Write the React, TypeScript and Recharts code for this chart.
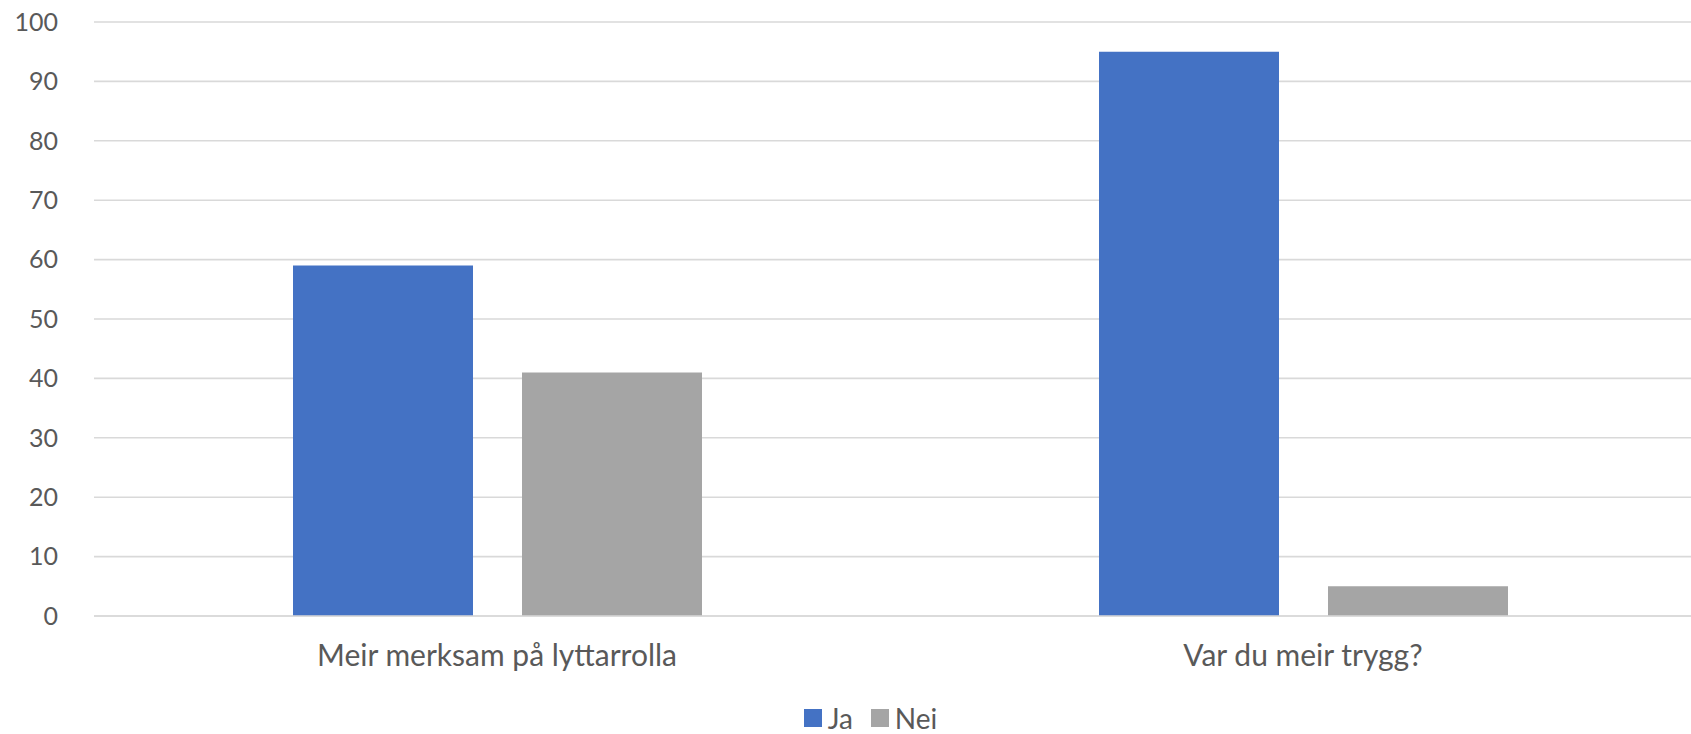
import React from "react";
import {
  BarChart,
  Bar,
  XAxis,
  YAxis,
  CartesianGrid,
  Legend,
} from "recharts";

const categories = ["Meir merksam på lyttarrolla", "Var du meir trygg?"];
const jaValues = [59, 95];
const neiValues = [41, 5];
const yTicks = [0, 10, 20, 30, 40, 50, 60, 70, 80, 90, 100];
const seriesNames = ["Ja", "Nei"];
const seriesColors = ["#4472C4", "#A5A5A5"];

const data = categories.map((name, i) => ({
  name,
  Ja: jaValues[i],
  Nei: neiValues[i],
}));

const FONT = "Lato, 'Noto Sans', sans-serif";
const TEXT = "#595959";

const LegendContent = () => (
  <div
    style={{
      display: "flex",
      justifyContent: "center",
      alignItems: "center",
      paddingLeft: 35,
      paddingTop: 5,
      fontSize: 28,
      color: TEXT,
      fontFamily: FONT,
    }}
  >
    {seriesNames.map((s, i) => (
      <div key={s} style={{ display: "flex", alignItems: "center", marginRight: i === 0 ? 18 : 0 }}>
        <span style={{ width: 18, height: 18, background: seriesColors[i], marginRight: 6, display: "inline-block" }} />
        <span>{s}</span>
      </div>
    ))}
  </div>
);

const App: React.FC = () => {
  return (
    <div style={{ width: 1691, height: 734, overflow: "hidden", background: "#fff", fontFamily: FONT }}>
      <style>{`body{margin:0}`}</style>
      <BarChart
        width={1706}
        height={734}
        data={data}
        margin={{ top: 22, right: 0, left: 0, bottom: 0 }}
        barGap={49}
      >
        <CartesianGrid vertical={false} stroke="#d9d9d9" strokeWidth={1.6} />
        <XAxis
          dataKey="name"
          axisLine={{ stroke: "#d9d9d9", strokeWidth: 1.6 }}
          tickLine={false}
          tick={{ fontSize: 30, fill: TEXT, fontFamily: FONT }}
          tickMargin={23}
          height={80}
        />
        <YAxis
          domain={[0, 100]}
          ticks={yTicks}
          axisLine={false}
          tickLine={false}
          tick={{ fontSize: 25, fill: TEXT, fontFamily: FONT }}
          tickMargin={30}
          width={94}
        />
        <Legend verticalAlign="bottom" height={38} content={LegendContent} />
        <Bar dataKey="Ja" fill={seriesColors[0]} barSize={180} isAnimationActive={false} />
        <Bar dataKey="Nei" fill={seriesColors[1]} barSize={180} isAnimationActive={false} />
      </BarChart>
    </div>
  );
};

export default App;
